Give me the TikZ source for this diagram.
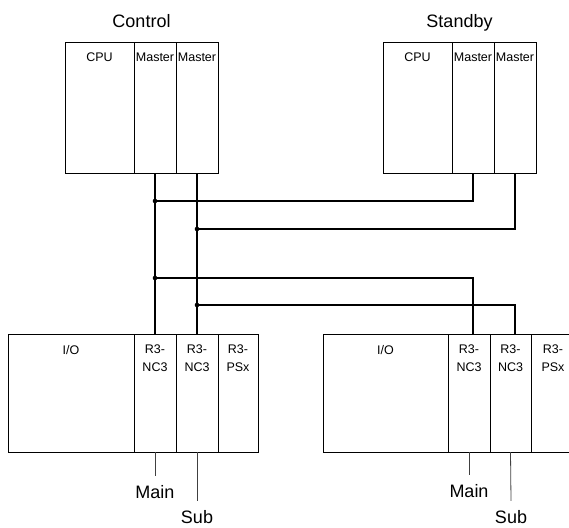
\documentclass[tikz,border=0pt]{standalone}
\usepackage{fontspec}
\setmainfont{Liberation Sans}
\usetikzlibrary{positioning,calc}

\tikzset{
  module/.style={draw, line width=0.9pt, inner sep=0pt, outer sep=0pt, anchor=north west},
  cpubox/.style={module, minimum height=131pt},
  iobox/.style={module, minimum height=118pt},
  modtext/.style={anchor=north, inner sep=0pt, yshift=-11pt, align=center,
    font=\fontsize{12.5}{17.5}\selectfont},
  title/.style={anchor=base, inner sep=0pt, font=\fontsize{18}{22}\selectfont},
  tag/.style={anchor=base, inner sep=0pt, outer sep=9pt, font=\fontsize{18}{22}\selectfont},
  bus/.style={line width=1.8pt},
  tagline/.style={line width=0.8pt, black!75},
}

\begin{document}
\begin{tikzpicture}[x=1pt, y=-1pt]
    \useasboundingbox (0,0) rectangle (569,527);

    % Control rack
    \node[cpubox, minimum width=69pt, label={[modtext]north:CPU}] (ccpu) at (65,42) {};
    \node[cpubox, minimum width=42pt, label={[modtext]north:Master}, right=0pt of ccpu] (cm1) {};
    \node[cpubox, minimum width=42pt, label={[modtext]north:Master}, right=0pt of cm1] (cm2) {};
    \node[title] (ctitle) at (141.5,28) {Control};

    % Standby rack
    \node[cpubox, minimum width=69pt, label={[modtext]north:CPU}] (scpu) at (383,42) {};
    \node[cpubox, minimum width=42pt, label={[modtext]north:Master}, right=0pt of scpu] (sm1) {};
    \node[cpubox, minimum width=42pt, label={[modtext]north:Master}, right=0pt of sm1] (sm2) {};
    \node[title] (stitle) at (459.5,28) {Standby};

    % Left I/O rack
    \node[iobox, minimum width=126pt, label={[modtext]north:I/O}] (lio) at (8,334) {};
    \node[iobox, minimum width=42pt, label={[modtext]north:R3-\\NC3}, right=0pt of lio] (lnc1) {};
    \node[iobox, minimum width=42pt, label={[modtext]north:R3-\\NC3}, right=0pt of lnc1] (lnc2) {};
    \node[iobox, minimum width=40pt, label={[modtext]north:R3-\\PSx}, right=0pt of lnc2] (lps) {};

    % Right I/O rack (runs off the edge)
    \node[iobox, minimum width=125pt, label={[modtext]north:I/O}] (rio) at (323,334) {};
    \node[iobox, minimum width=42pt, label={[modtext]north:R3-\\NC3}, right=0pt of rio] (rnc1) {};
    \node[iobox, minimum width=41pt, label={[modtext]north:R3-\\NC3}, right=0pt of rnc1] (rnc2) {};
    \node[iobox, minimum width=44pt, label={[modtext]north:R3-\\PSx}, right=0pt of rnc2] (rps) {};

    % Trunk lines
    \draw[bus] (cm1.south) -- (lnc1.north);
    \draw[bus] (cm2.south) -- (lnc2.north);

    % Branches
    \coordinate (ja) at (cm1.south |- 0,201);
    \coordinate (jb) at (cm2.south |- 0,229);
    \coordinate (jc) at (cm1.south |- 0,278);
    \coordinate (jd) at (cm2.south |- 0,305);
    \draw[bus] (ja) -| (sm1.south);
    \draw[bus] (jb) -| (sm2.south);
    \draw[bus] (jc) -| (sm1.south |- rnc1.north);
    \draw[bus] (jd) -| (sm2.south |- rnc2.north);
    \foreach \j in {ja,jb,jc,jd}
        \fill (\j) circle (2.3pt);

    % Main / Sub
    \node[tag] (lmain) at (155,498) {Main};
    \node[tag] (lsub) at (197,523) {Sub};
    \node[tag] (rmain) at (469,497) {Main};
    \node[tag] (rsub) at (511,523) {Sub};
    \draw[tagline] (lnc1.south) -- (lmain.north);
    \draw[tagline] (lnc2.south) -- (lsub.north);
    \draw[tagline] (rnc1.south) -- (rmain.north);
    \draw[tagline] (rnc2.south) -- (rsub.north);
\end{tikzpicture}
\end{document}
